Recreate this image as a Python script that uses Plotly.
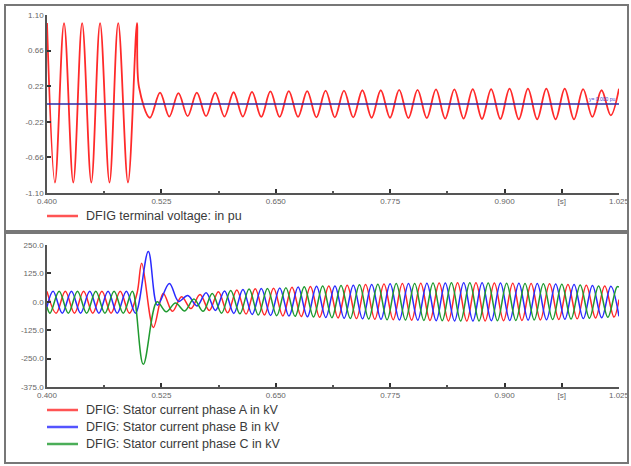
import plotly.graph_objects as go

W, H = 631, 466

# ---------------- upper panel: terminal voltage (pu) ----------------
# extrema of the voltage waveform (time in s, value in pu)
volt_t = [0.4000, 0.4087, 0.4186, 0.4287, 0.4384, 0.4484, 0.4580, 0.4683, 0.4778, 0.4885,
          0.4983, 0.5005, 0.5125,
          0.5235, 0.5336, 0.5436, 0.5537, 0.5637, 0.5738, 0.5838, 0.5939, 0.6039, 0.6140,
          0.6240, 0.6341, 0.6441, 0.6542, 0.6642, 0.6743, 0.6843, 0.6944, 0.7044, 0.7145,
          0.7245, 0.7346, 0.7446, 0.7547, 0.7647, 0.7748, 0.7848, 0.7949, 0.8049, 0.8150,
          0.8250, 0.8351, 0.8451, 0.8552, 0.8652, 0.8753, 0.8853, 0.8954, 0.9054, 0.9155,
          0.9255, 0.9356, 0.9456, 0.9557, 0.9657, 0.9758, 0.9858, 0.9959, 1.0059, 1.0160,
          1.0250]
volt_v = [1.00, -0.97, 1.00, -0.97, 1.00, -0.97, 1.00, -0.97, 1.00, -0.97,
          1.00, 0.21, -0.17,
          0.14, -0.155, 0.135, -0.15, 0.14, -0.15, 0.14, -0.155, 0.145, -0.155,
          0.15, -0.16, 0.155, -0.16, 0.16, -0.16, 0.16, -0.165, 0.165, -0.165,
          0.165, -0.165, 0.17, -0.17, 0.17, -0.17, 0.175, -0.175, 0.175, -0.175,
          0.18, -0.18, 0.18, -0.18, 0.185, -0.185, 0.185, -0.185, 0.19, -0.19,
          0.19, -0.19, 0.19, -0.19, 0.19, -0.19, 0.185, -0.16, 0.17, -0.14,
          0.19]
ref_t = [0.400, 1.025]
ref_v = [0.0, 0.0]

# ---------------- lower panel: stator currents (kV) ----------------
ia_t = [0.400, 0.410, 0.420, 0.430, 0.440, 0.450, 0.460, 0.470, 0.480, 0.490,
        0.4985, 0.5035, 0.5162,
        0.5270, 0.5371, 0.5471, 0.5572, 0.5672, 0.5773, 0.5873, 0.5974, 0.6074, 0.6175,
        0.6275, 0.6376, 0.6476, 0.6577, 0.6677, 0.6778, 0.6878, 0.6979, 0.7079, 0.7180,
        0.7280, 0.7381, 0.7481, 0.7582, 0.7682, 0.7783, 0.7883, 0.7984, 0.8084, 0.8185,
        0.8285, 0.8386, 0.8486, 0.8587, 0.8687, 0.8788, 0.8888, 0.8989, 0.9089, 0.9190,
        0.9290, 0.9391, 0.9491, 0.9592, 0.9692, 0.9793, 0.9893, 0.9994, 1.0094, 1.0195,
        1.0250]
ia_v = [46, -50, 46, -50, 46, -50, 46, -50, 46, -50,
        40, 170, -113,
        37, -42, 22, -30, 32, -38, 44, -48, 52, -54,
        57, -58, 60, -62, 64, -65, 67, -68, 70, -71,
        73, -74, 76, -77, 78, -79, 80, -81, 82, -82,
        83, -84, 84, -84, 84, -84, 83, -83, 82, -82,
        81, -80, 79, -78, 76, -75, 73, -71, 69, -67,
        10]

ib_t = [0.400, 0.4067, 0.4167, 0.4267, 0.4367, 0.4467, 0.4567, 0.4667, 0.4767, 0.4867, 0.4967,
        0.5107, 0.5207,
        0.5337, 0.5438, 0.5538, 0.5639, 0.5739, 0.5840, 0.5940, 0.6041, 0.6141, 0.6242,
        0.6342, 0.6443, 0.6543, 0.6644, 0.6744, 0.6845, 0.6945, 0.7046, 0.7146, 0.7247,
        0.7347, 0.7448, 0.7548, 0.7649, 0.7749, 0.7850, 0.7950, 0.8051, 0.8151, 0.8252,
        0.8352, 0.8453, 0.8553, 0.8654, 0.8754, 0.8855, 0.8955, 0.9056, 0.9156, 0.9257,
        0.9357, 0.9458, 0.9558, 0.9659, 0.9759, 0.9860, 0.9960, 1.0061, 1.0161,
        1.0250]
ib_v = [-23, 46, -50, 46, -50, 46, -50, 46, -50, 46, -50,
        221, -15,
        81, 2, 28, -18, 40, -38, 48, -51, 54, -56,
        58, -60, 61, -63, 65, -66, 68, -69, 70, -72,
        73, -75, 76, -77, 79, -80, 80, -81, 82, -83,
        83, -84, 84, -84, 84, -83, 83, -82, 82, -81,
        80, -79, 78, -77, 76, -74, 72, -70, 68,
        -64]

ic_t = [0.400, 0.4033, 0.4133, 0.4233, 0.4333, 0.4433, 0.4533, 0.4633, 0.4733, 0.4833, 0.4933,
        0.5052, 0.5203,
        0.5303, 0.5404, 0.5504, 0.5605, 0.5706, 0.5806, 0.5907, 0.6007, 0.6108, 0.6208,
        0.6309, 0.6409, 0.6510, 0.6610, 0.6711, 0.6811, 0.6912, 0.7012, 0.7113, 0.7213,
        0.7314, 0.7414, 0.7515, 0.7615, 0.7716, 0.7816, 0.7917, 0.8017, 0.8118, 0.8218,
        0.8319, 0.8419, 0.8520, 0.8620, 0.8721, 0.8821, 0.8922, 0.9022, 0.9123, 0.9223,
        0.9324, 0.9424, 0.9525, 0.9625, 0.9726, 0.9826, 0.9927, 1.0027, 1.0128, 1.0228,
        1.0250]
ic_v = [-23, -50, 46, -50, 46, -50, 46, -50, 46, -50, 46,
        -275, 0,
        -44, -5, -40, 12, -42, 36, -50, 50, -53, 56,
        -58, 59, -61, 62, -64, 66, -67, 69, -70, 72,
        -73, 75, -76, 77, -79, 80, -80, 81, -82, 83,
        -83, 84, -84, 84, -84, 83, -83, 82, -82, 81,
        -80, 79, -78, 77, -76, 74, -72, 70, -68, 66,
        65]

# ---------------- axis labels ----------------
x_ticks = [0.400, 0.525, 0.650, 0.775, 0.900, 0.9625, 1.025]
x_text = ["0.400", "0.525", "0.650", "0.775", "0.900", "[s]", "1.025"]
v_ticks = [-1.10, -0.66, -0.22, 0.22, 0.66, 1.10]
v_text = ["-1.10", "-0.66", "-0.22", "0.22", "0.66", "1.10"]
i_ticks = [-375.0, -250.0, -125.0, 0.0, 125.0, 250.0]
i_text = ["-375.0", "-250.0", "-125.0", "0.0", "125.0", "250.0"]

FONT = "Liberation Sans, Arial, sans-serif"
RED, BLUE, GREEN, NAVY = "#ff2a2a", "#2a2aff", "#1f9a2f", "#2b2ba8"

volt_name = "DFIG terminal voltage: in pu"
cur_series = [(ia_t, ia_v, RED, "DFIG: Stator current phase A in kV"),
              (ib_t, ib_v, BLUE, "DFIG: Stator current phase B in kV"),
              (ic_t, ic_v, GREEN, "DFIG: Stator current phase C in kV")]

fig = go.Figure()
fig.add_trace(go.Scatter(x=volt_t, y=volt_v, mode="lines", line=dict(color=RED, width=1.8, shape="spline"),
                         name=volt_name, showlegend=False, xaxis="x", yaxis="y"))
fig.add_trace(go.Scatter(x=ref_t, y=ref_v, mode="lines", line=dict(color=NAVY, width=1.5),
                         showlegend=False, xaxis="x", yaxis="y"))
for tt, vv, col, nm in cur_series:
    fig.add_trace(go.Scatter(x=tt, y=vv, mode="lines", line=dict(color=col, width=1.5, shape="spline"),
                             name=nm, showlegend=False, xaxis="x2", yaxis="y2"))


def px_(x):
    """page x (px) -> paper fraction"""
    return x / W


def py(y):
    """page y (px, from top) -> paper fraction"""
    return 1 - y / H


# panel frames
shapes = [
    dict(type="rect", xref="paper", yref="paper", x0=px_(5), x1=px_(628), y0=py(231), y1=py(5),
         line=dict(color="#777", width=2)),
    dict(type="rect", xref="paper", yref="paper", x0=px_(5), x1=px_(628), y0=py(463), y1=py(233),
         line=dict(color="#777", width=2)),
]
annotations = [
    dict(x=1.006, y=0.0, xref="x", yref="y", text="y= 0.000 pu", showarrow=False,
         xanchor="center", yanchor="bottom", font=dict(family=FONT, size=5, color="#3a3ad0")),
]

# legend rows under each panel: colour sample + caption
legend_rows = [(216, RED, volt_name)] + [(410 + 17 * k, c, n) for k, (_, _, c, n) in enumerate(cur_series)]
for ypx, col, txt in legend_rows:
    shapes.append(dict(type="line", xref="paper", yref="paper", x0=px_(47), x1=px_(78),
                       y0=py(ypx), y1=py(ypx), line=dict(color=col, width=2.5), opacity=0.8))
    annotations.append(dict(x=px_(84), y=py(ypx), xref="paper", yref="paper", text=txt, showarrow=False,
                            xanchor="left", yanchor="middle",
                            font=dict(family=FONT, size=12.5, color="#3a3a3a")))

axis_common = dict(showline=True, linecolor="#555", linewidth=1.5, showgrid=False, zeroline=False,
                   ticks="inside", ticklen=4, tickcolor="#333", tickwidth=1.5, automargin=False,
                   tickfont=dict(family=FONT, size=8, color="#666"))
xa = dict(axis_common, range=[0.400, 1.025], tickvals=x_ticks, ticktext=x_text,
          minor=dict(tickvals=[0.4625, 0.5875, 0.7125, 0.8375], ticks="inside", ticklen=2, tickcolor="#555"))

fig.update_layout(
    width=W, height=H, margin=dict(l=0, r=0, t=0, b=0, autoexpand=False),
    paper_bgcolor="white", plot_bgcolor="white",
    font=dict(family=FONT, size=11, color="#333"),
    showlegend=False,
    xaxis=dict(xa, domain=[px_(47), px_(619)], anchor="y"),
    yaxis=dict(axis_common, range=[-1.10, 1.10], tickvals=v_ticks, ticktext=v_text,
               domain=[py(193), py(15)], anchor="x"),
    xaxis2=dict(xa, domain=[px_(47), px_(619)], anchor="y2"),
    yaxis2=dict(axis_common, range=[-375, 250], tickvals=i_ticks, ticktext=i_text,
                domain=[py(387), py(245)], anchor="x2"),
    shapes=shapes,
    annotations=annotations,
)

fig.write_html("out.html")
